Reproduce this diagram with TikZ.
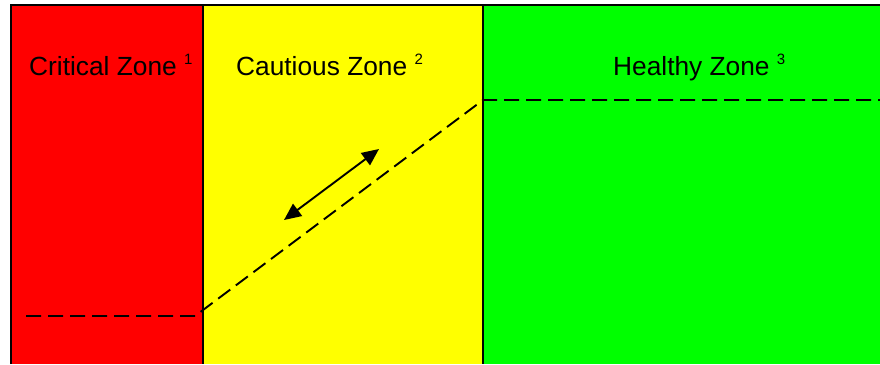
\documentclass[tikz,border=0pt]{standalone}
\usepackage{fontspec}
\setmainfont{Liberation Sans}
\usetikzlibrary{arrows.meta}
\definecolor{zred}{RGB}{255,0,0}
\definecolor{zyellow}{RGB}{255,255,0}
\definecolor{zgreen}{RGB}{0,255,0}
\tikzset{
  zonelabel/.style={anchor=base west, inner sep=0pt, font=\fontsize{26.3}{30}\selectfont},
  border/.style={line width=1.8pt, black},
  trend/.style={line width=1.9pt, dash pattern=on 15pt off 7pt},
  dblarrow/.style={line width=1.9pt, {Triangle[length=17pt,width=15pt]}-{Triangle[length=17pt,width=15pt]}}
}
\newcommand{\zsup}[1]{\raisebox{11pt}{\fontsize{15}{15}\selectfont #1}}
\begin{document}
\begin{tikzpicture}[x=1pt,y=-1pt]
\useasboundingbox (0,0) rectangle (880,364);
% zones
\fill[zred] (11,5) rectangle (203,364);
\fill[zyellow] (203,5) rectangle (483,364);
\fill[zgreen] (483,5) rectangle (880,364);
% borders
\draw[border] (11,364) -- (11,5) -- (880,5);
\draw[border] (203,5) -- (203,364);
\draw[border] (483,5) -- (483,364);
% labels
\node[zonelabel] (crit) at (29,75) {Critical Zone \zsup{1}};
\node[zonelabel] (caut) at (236,75) {Cautious Zone \zsup{2}};
\node[zonelabel] (heal) at (613,75) {Healthy Zone \zsup{3}};
% dashed trend line
\coordinate (d1) at (26,316);
\coordinate (d2) at (195,316);
\coordinate (d3) at (483,100);
\coordinate (d4) at (880,100);
\draw[trend] (d1) -- (d2) -- (d3) -- (d4);
% double arrow
\coordinate (a1) at (284,220);
\coordinate (a2) at (379,149);
\draw[dblarrow] (a1) -- (a2);
\end{tikzpicture}
\end{document}
